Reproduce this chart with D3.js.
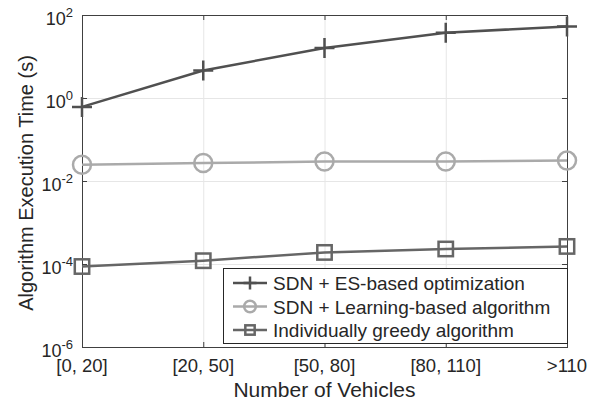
<!DOCTYPE html>
<html lang="en">
<head>
  <meta charset="utf-8">
  <title>Execution time</title>
  <style>
    body { margin:0; background:#fff; }
    svg text { font-family:"Liberation Sans", Arial, sans-serif; fill:#262626; }
  </style>
</head>
<body>
  <div id="page"></div>
  <script src="https://cdn.jsdelivr.net/npm/d3@7"></script>
  <script>
    var categories = ["[0, 20]", "[20, 50]", "[50, 80]", "[80, 110]", ">110"];
    var esValues = [0.61, 4.6, 16, 37.5, 53];
    var learnValues = [0.0247, 0.027, 0.0295, 0.0295, 0.031];
    var greedyValues = [8.7e-5, 1.2e-4, 1.9e-4, 2.3e-4, 2.65e-4];
    var yTicks = [1e-6, 1e-4, 1e-2, 1e0, 1e2];

    var series = [
      {name:"SDN + ES-based optimization", values:esValues, color:"#505050", marker:"plus"},
      {name:"SDN + Learning-based algorithm", values:learnValues, color:"#aaaaaa", marker:"circle"},
      {name:"Individually greedy algorithm", values:greedyValues, color:"#666666", marker:"square"}
    ];

    var W = 601, H = 405;
    var m = {left:82, right:567, top:15, bottom:347};

    var svg = d3.select("#page").append("svg")
        .attr("width", W).attr("height", H);

    var x = d3.scalePoint().domain(categories).range([m.left, m.right]).padding(0);
    var y = d3.scaleLog().domain([1e-6, 1e2]).range([m.bottom, m.top]);

    // grid
    var grid = svg.append("g").attr("stroke", "#e6e6e6").attr("stroke-width", 1);
    grid.selectAll("line.gx").data(categories).enter().append("line")
        .attr("x1", function(d){ return x(d) + 0.5; }).attr("x2", function(d){ return x(d) + 0.5; })
        .attr("y1", m.top).attr("y2", m.bottom);
    grid.selectAll("line.gy").data(yTicks).enter().append("line")
        .attr("y1", function(d){ return y(d) + 0.5; }).attr("y2", function(d){ return y(d) + 0.5; })
        .attr("x1", m.left).attr("x2", m.right);

    // box + ticks
    var ax = svg.append("g").attr("stroke", "#404040").attr("stroke-width", 1).attr("fill", "none");
    ax.append("rect").attr("x", m.left + 0.5).attr("y", m.top + 0.5)
        .attr("width", m.right - m.left).attr("height", m.bottom - m.top);
    categories.forEach(function(c){
      ax.append("line").attr("x1", x(c) + 0.5).attr("x2", x(c) + 0.5).attr("y1", m.bottom).attr("y2", m.bottom - 5);
      ax.append("line").attr("x1", x(c) + 0.5).attr("x2", x(c) + 0.5).attr("y1", m.top).attr("y2", m.top + 5);
    });
    yTicks.forEach(function(t){
      ax.append("line").attr("y1", y(t) + 0.5).attr("y2", y(t) + 0.5).attr("x1", m.left).attr("x2", m.left + 5);
      ax.append("line").attr("y1", y(t) + 0.5).attr("y2", y(t) + 0.5).attr("x1", m.right).attr("x2", m.right - 5);
    });

    // tick labels
    svg.selectAll("text.xt").data(categories).enter().append("text")
        .attr("x", function(d){ return x(d); }).attr("y", 372)
        .attr("text-anchor", "middle").style("font-size", "18.5px")
        .text(function(d){ return d; });

    yTicks.forEach(function(t){
      var e = Math.round(Math.log10(t));
      var g = svg.append("text").attr("x", 73).attr("y", y(t) + 10)
          .attr("text-anchor", "end").style("font-size", "18px");
      g.append("tspan").text("10");
      g.append("tspan").attr("dy", -8).style("font-size", "13px").text(e);
    });

    // axis labels
    svg.append("text").attr("x", (m.left + m.right) / 2).attr("y", 397)
        .attr("text-anchor", "middle").style("font-size", "21px").text("Number of Vehicles");
    svg.append("text").attr("transform", "translate(33," + ((m.top + m.bottom) / 2 + 2) + ") rotate(-90)")
        .attr("text-anchor", "middle").style("font-size", "20px").text("Algorithm Execution Time (s)");

    function drawMarker(g, type, cx, cy, color, s) {
      if (type == "plus") {
        g.append("path").attr("d", "M" + (cx - s) + "," + cy + "H" + (cx + s) + "M" + cx + "," + (cy - s) + "V" + (cy + s))
            .attr("stroke", color).attr("stroke-width", 2.5).attr("fill", "none");
      } else if (type == "circle") {
        g.append("circle").attr("cx", cx).attr("cy", cy).attr("r", s * 0.9)
            .attr("stroke", color).attr("stroke-width", 2.5).attr("fill", "none");
      } else {
        var h = s * 0.72;
        g.append("rect").attr("x", cx - h).attr("y", cy - h).attr("width", 2 * h).attr("height", 2 * h)
            .attr("stroke", color).attr("stroke-width", 2.5).attr("fill", "none");
      }
    }

    var line = d3.line().x(function(d, i){ return x(categories[i]); }).y(function(d){ return y(d); });

    series.forEach(function(s){
      var g = svg.append("g");
      g.append("path").attr("d", line(s.values)).attr("fill", "none")
          .attr("stroke", s.color).attr("stroke-width", 2.5);
      s.values.forEach(function(v, i){ drawMarker(g, s.marker, x(categories[i]), y(v), s.color, 10); });
    });

    // legend
    var lg = svg.append("g");
    lg.append("rect").attr("x", 223.5).attr("y", 268.5).attr("width", 344).attr("height", 75)
        .attr("fill", "#fff").attr("stroke", "#262626").attr("stroke-width", 1);
    series.forEach(function(s, i){
      var cy = 283 + i * 23.5;
      lg.append("line").attr("x1", 233).attr("x2", 267).attr("y1", cy).attr("y2", cy)
          .attr("stroke", s.color).attr("stroke-width", 2.5);
      drawMarker(lg, s.marker, 250, cy, s.color, 6.5);
      lg.append("text").attr("x", 273).attr("y", cy + 7).style("font-size", "19px").text(s.name);
    });
  </script>
</body>
</html>
